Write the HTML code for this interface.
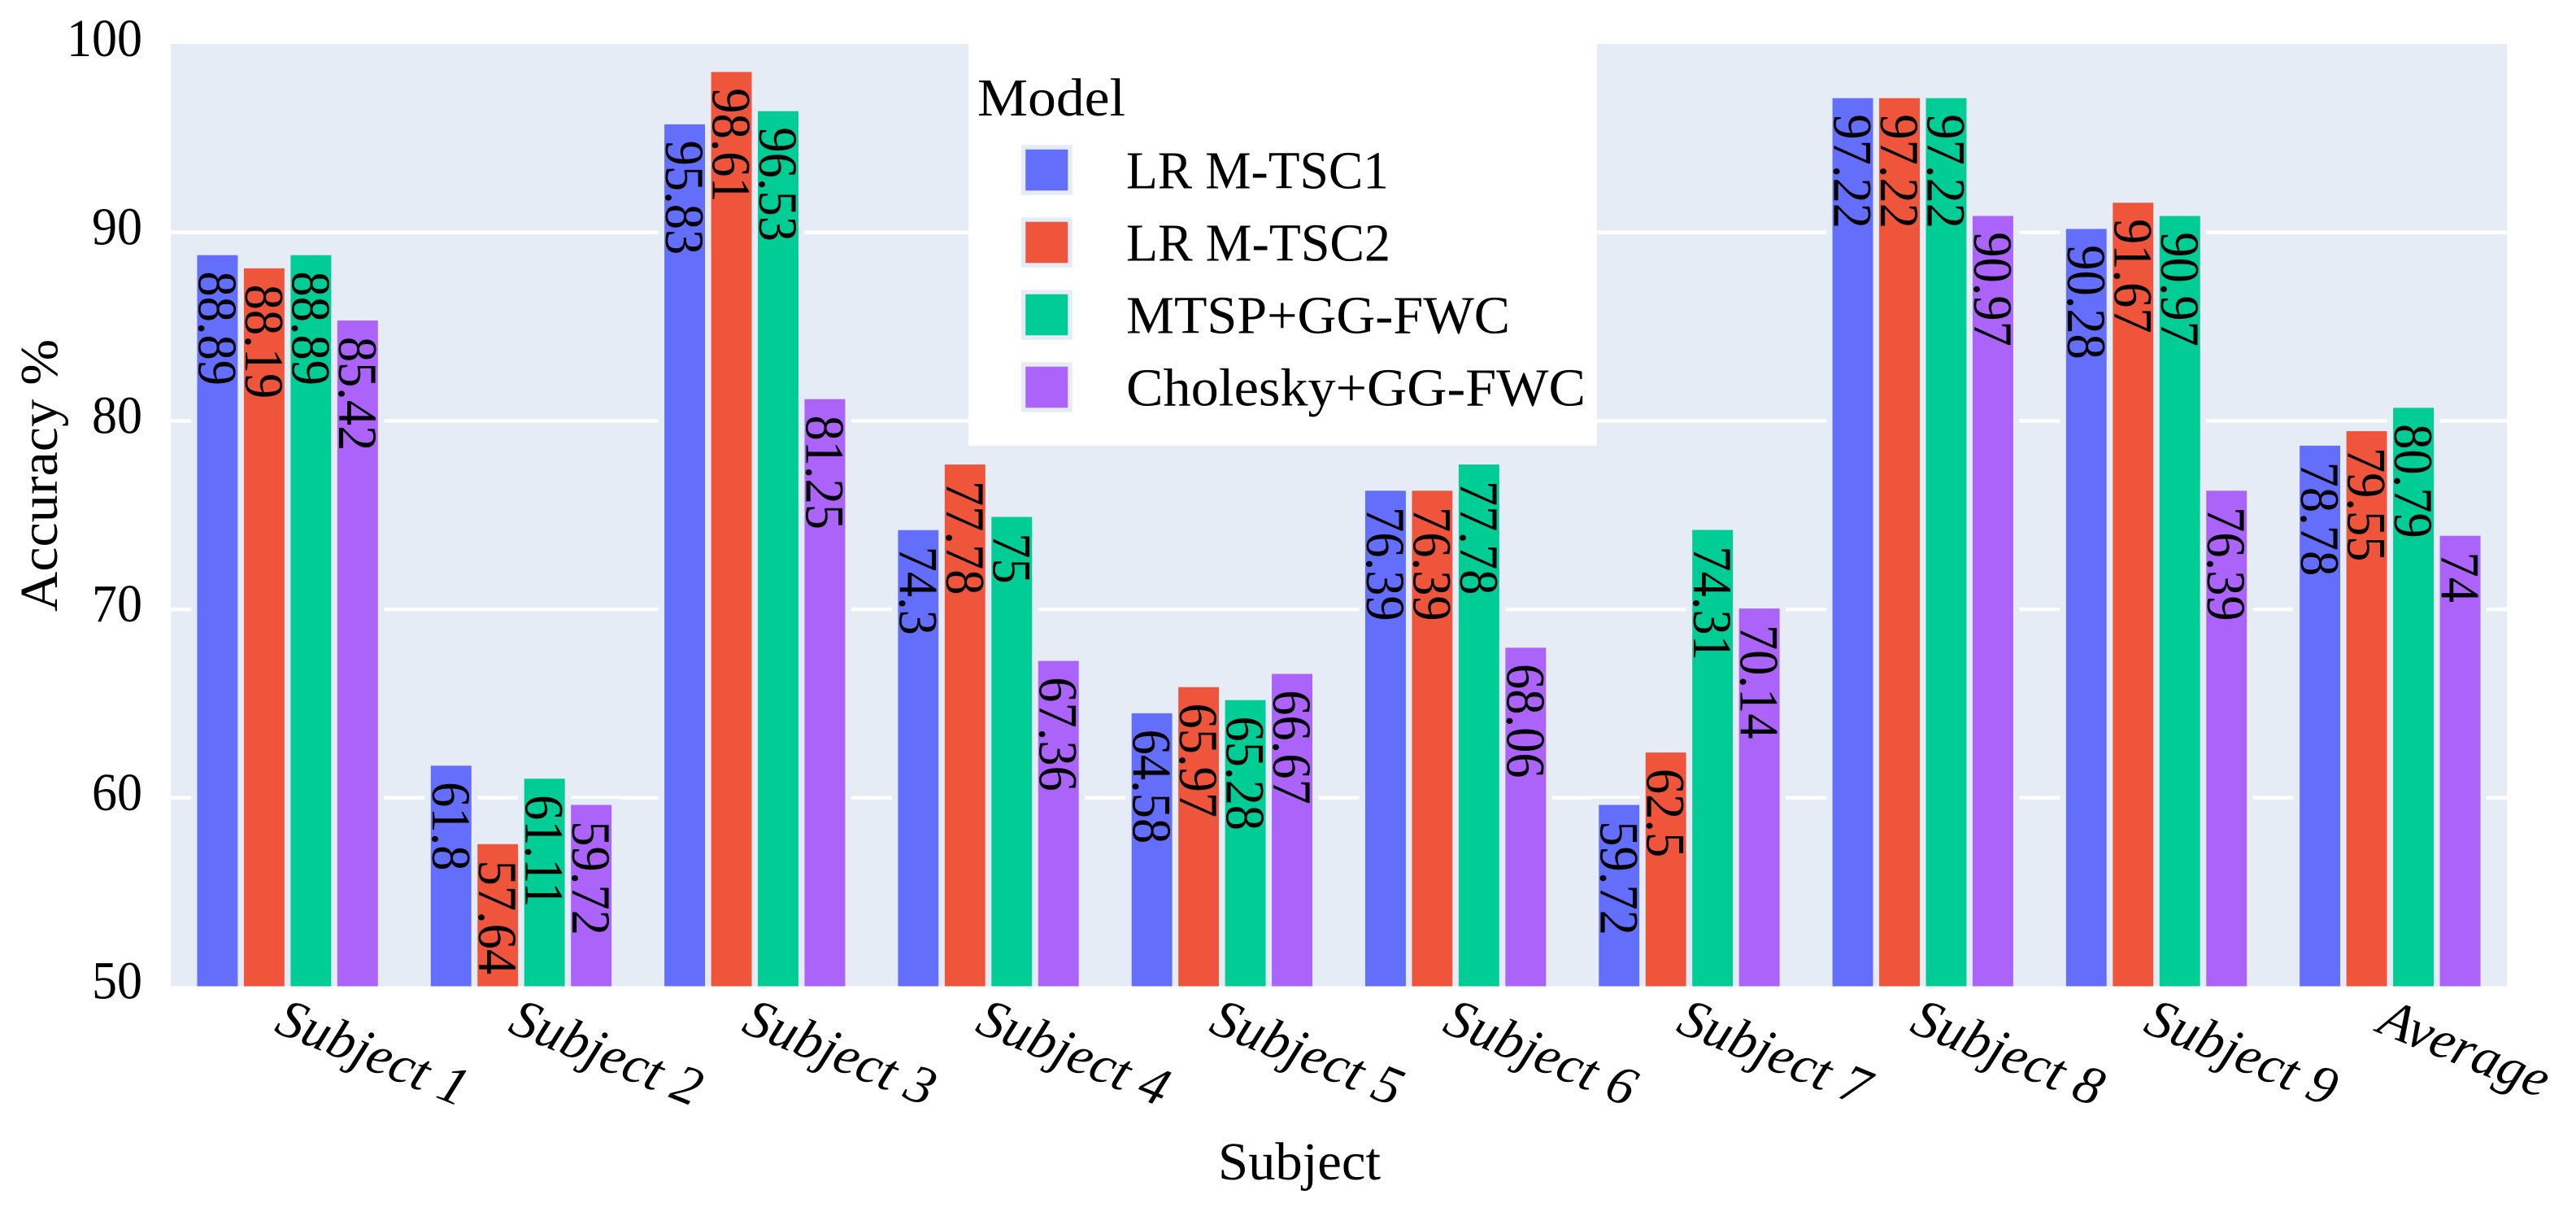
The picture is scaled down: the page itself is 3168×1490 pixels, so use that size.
<!DOCTYPE html>
<html lang="en">
<head>
<meta charset="utf-8">
<title>Accuracy by subject and model</title>
<style>
  html, body { margin: 0; padding: 0; background: #ffffff; }
  svg { display: block; }
  text { font-family: "Liberation Serif", serif; fill: #000000; }
</style>
</head>
<body>
<svg id="chart" xmlns="http://www.w3.org/2000/svg" width="3168" height="1490" viewBox="0 0 3168 1490">
  <defs>
    <clipPath id="plot-clip"><rect x="210" y="54" width="2873" height="1158.5"></rect></clipPath>
  </defs>
  <rect x="210" y="54" width="2873" height="1158.5" fill="#E5ECF6"></rect>
  <g id="grid"></g>
  <g id="bars" clip-path="url(#plot-clip)"></g>
  <g id="labels"></g>
  <g id="y-ticks"></g>
  <g id="x-ticks"></g>
  <text transform="translate(70,752) rotate(-90)" font-size="66" textLength="335" lengthAdjust="spacingAndGlyphs">Accuracy %</text>
  <text x="1498" y="1450" font-size="66" textLength="200" lengthAdjust="spacingAndGlyphs">Subject</text>
  <g id="legend">
    <rect x="1191" y="54" width="773" height="494" fill="#ffffff"></rect>
    <text x="1202" y="142" font-size="66" textLength="182" lengthAdjust="spacingAndGlyphs">Model</text>
  </g>
</svg>
<script>
const categories = ["Subject 1", "Subject 2", "Subject 3", "Subject 4", "Subject 5", "Subject 6", "Subject 7", "Subject 8", "Subject 9", "Average"];
const seriesNames = ["LR M-TSC1", "LR M-TSC2", "MTSP+GG-FWC", "Cholesky+GG-FWC"];
const seriesColors = ["#636EFA", "#EF553B", "#00CC96", "#AB63FA"];
const lrMtsc1 = [88.89, 61.8, 95.83, 74.3, 64.58, 76.39, 59.72, 97.22, 90.28, 78.78];
const lrMtsc2 = [88.19, 57.64, 98.61, 77.78, 65.97, 76.39, 62.5, 97.22, 91.67, 79.55];
const mtspGgFwc = [88.89, 61.11, 96.53, 75, 65.28, 77.78, 74.31, 97.22, 90.97, 80.79];
const choleskyGgFwc = [85.42, 59.72, 81.25, 67.36, 66.67, 68.06, 70.14, 90.97, 76.39, 74];
const yTickLabels = [50, 60, 70, 80, 90, 100];
const gridValues = [60, 70, 80, 90];

const NS = "http://www.w3.org/2000/svg";
const plotLeft = 210, plotRight = 3083, plotTop = 54, plotBottom = 1212.5;
const yMin = 50, yMax = 100;
const allSeries = [lrMtsc1, lrMtsc2, mtspGgFwc, choleskyGgFwc];
const band = (plotRight - plotLeft) / categories.length;
const barSlot = band * 0.8 / allSeries.length;

function yScale(v) {
  return plotTop + (yMax - v) / (yMax - yMin) * (plotBottom - plotTop);
}
function xCenter(i) {
  return plotLeft + (i + 0.5) * band;
}
function barCenter(i, s) {
  return xCenter(i) + (s - (allSeries.length - 1) / 2) * barSlot;
}
function make(tag, attrs, text) {
  const el = document.createElementNS(NS, tag);
  for (const k in attrs) el.setAttribute(k, attrs[k]);
  if (text !== undefined) el.textContent = text;
  return el;
}

const gridG = document.getElementById("grid");
gridValues.forEach(function (v) {
  const line = make("line", { x1: plotLeft, x2: plotRight, y1: yScale(v), y2: yScale(v), stroke: "#ffffff", "stroke-width": 4.5 });
  
  
  gridG.appendChild(line);
});

const barsG = document.getElementById("bars");
const labelsG = document.getElementById("labels");
allSeries.forEach(function (values, s) {
  values.forEach(function (v, i) {
    const cx = barCenter(i, s);
    const top = yScale(v);
    const bar = make("rect", {
      x: cx - barSlot / 2, y: top - 1.5, width: barSlot, height: plotBottom + 10 - top,
      fill: seriesColors[s], stroke: "#E5ECF6", "stroke-width": 7.5
    });
    
    
    barsG.appendChild(bar);

    const label = make("text", {
      transform: "translate(" + (cx - 23) + "," + (top + 22) + ") rotate(90) scale(1,1.08)",
      "font-size": 62.5
    }, String(v));
    
    
    labelsG.appendChild(label);
  });
});

const yG = document.getElementById("y-ticks");
yTickLabels.forEach(function (t) {
  const tick = make("text", { x: 175, y: yScale(t) + 15, "font-size": 66, "text-anchor": "end", textLength: 31 * String(t).length, lengthAdjust: "spacingAndGlyphs" }, String(t));
  
  
  yG.appendChild(tick);
});

const xG = document.getElementById("x-ticks");
categories.forEach(function (c, i) {
  const tick = make("text", {
    transform: "translate(" + (xCenter(i) - 18) + ",1268) rotate(22)",
    "font-size": 67, "font-style": "italic"
  }, c);
  
  
  xG.appendChild(tick);
});

const legendG = document.getElementById("legend");
const legendRowHeight = 89;
const legendTextWidths = [323, 325, 472, 565];
seriesNames.forEach(function (name, s) {
  const rowY = 181 + s * legendRowHeight;
  const swatch = make("rect", { x: 1258.5, y: rowY, width: 57.5, height: 56, fill: seriesColors[s], stroke: "#E5ECF6", "stroke-width": 5.5 });
  
  
  legendG.appendChild(swatch);
  const entry = make("text", { x: 1385, y: rowY + 50.5, "font-size": 66, textLength: legendTextWidths[s], lengthAdjust: "spacingAndGlyphs" }, name);
  
  
  legendG.appendChild(entry);
});
</script>
</body>
</html>
